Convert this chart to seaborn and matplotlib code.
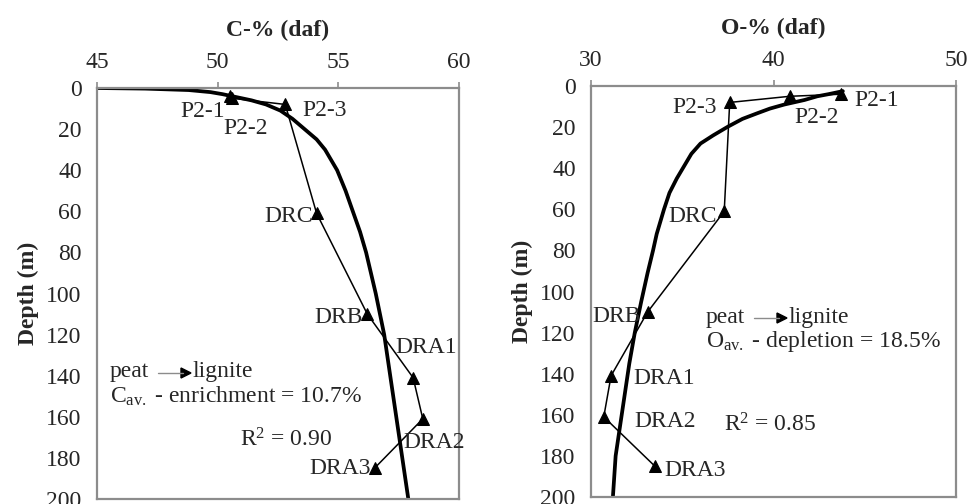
import matplotlib
matplotlib.use("Agg")
import matplotlib.pyplot as plt
import seaborn as sns

# Sample depths (m) and labels, shared by both panels
samples = ['P2-1', 'P2-2', 'P2-3', 'DRC', 'DRB', 'DRA1', 'DRA2', 'DRA3']
depth = [4, 5, 8, 61, 110, 141, 161, 185]

# Carbon and oxygen content (% daf) of the samples
carbon = [50.5, 50.6, 52.8, 54.1, 56.2, 58.1, 58.5, 56.5]
oxygen = [43.7, 40.9, 37.6, 37.3, 33.1, 31.1, 30.7, 33.5]

# Fitted trend curves
c_fit_x = [45, 47, 48.8, 49.7, 50.2, 50.6, 51.4, 52.0, 52.6, 53.1, 53.6,
           54.1, 54.45, 54.95, 55.3, 55.6, 55.9, 56.15, 56.35, 56.55,
           56.9, 57.15, 57.4, 57.65, 57.9]
c_fit_d = [0, 0.3, 1, 2, 3, 4, 6, 8, 11, 15, 20,
           25, 30, 40, 50, 60, 70, 80, 90, 100,
           120, 140, 160, 180, 200]
o_fit_x = [43.8, 43.0, 42.4, 41.7, 40.6, 39.8, 39.1, 38.3, 37.5, 36.7,
           36.0, 35.5, 35.1, 34.7, 34.3, 34.0, 33.6, 33.4, 33.1, 32.75,
           32.4, 32.1, 31.8, 31.6, 31.35, 31.2]
o_fit_d = [2.5, 4, 5, 6.8, 9, 11, 13.3, 16, 19.8, 24,
           28, 33, 39, 45, 52, 60, 72, 80, 91, 105,
           120, 135, 153, 165, 180, 200]

# Label offsets (pixels) and alignment for each sample label
c_offsets = [(-5, -15, 'right'), (-9, -30, 'left'), (17, -6, 'left'),
             (-4, -3, 'right'), (-5, -3, 'right'), (44, 30, 'right'),
             (-19, -24, 'left'), (-4, 0, 'right')]
o_offsets = [(13, -6, 'left'), (4, -21, 'left'), (-13, -5, 'right'),
             (-7, -5, 'right'), (-7, -4, 'right'), (22, -3, 'left'),
             (31, -5, 'left'), (9, -4, 'left')]

sns.set_style("white")
plt.rcParams['font.family'] = ['Liberation Serif', 'DejaVu Serif']
plt.rcParams['mathtext.fontset'] = 'custom'
plt.rcParams['mathtext.rm'] = 'Liberation Serif'
plt.rcParams['mathtext.it'] = 'Liberation Serif:italic'

fig = plt.figure(figsize=(9.68, 5.04), dpi=100)
ax1 = fig.add_axes([97 / 968, 5 / 504, 362 / 968, 411 / 504])
ax2 = fig.add_axes([591 / 968, 7 / 504, 365 / 968, 411 / 504])

gray = '#8c8c8c'
fs = 17


def draw_panel(ax, values, fit_x, fit_d, offsets, xlim, xticks, title):
    sns.lineplot(x=fit_x, y=fit_d, sort=False, estimator=None, ax=ax,
                 color='black', lw=2.7)
    sns.lineplot(x=values, y=depth, sort=False, estimator=None, ax=ax,
                 color='black', lw=1.1, marker='^', markersize=8.5,
                 markeredgecolor='black')
    for name, x, d, (dx, dy, ha) in zip(samples, values, depth, offsets):
        ax.annotate(name, (x, d), xytext=(dx, dy), textcoords='offset pixels',
                    ha=ha, va='center', fontsize=fs)
    ax.set_xlim(*xlim)
    ax.set_ylim(200, 0)
    ax.set_xticks(xticks)
    ax.set_yticks(range(0, 201, 20))
    ax.xaxis.tick_top()
    ax.xaxis.set_label_position('top')
    ax.set_xlabel(title, fontsize=fs, fontweight='bold', labelpad=11)
    ax.set_ylabel('Depth (m)', fontsize=fs, fontweight='bold', labelpad=5)
    ax.tick_params(axis='both', labelsize=fs, length=4, width=1.2,
                   color=gray, pad=7, direction='out')
    for s in ax.spines.values():
        s.set_visible(True)
        s.set_color(gray)
        s.set_linewidth(1.6)


draw_panel(ax1, carbon, c_fit_x, c_fit_d, c_offsets, (45, 60),
           [45, 50, 55, 60], 'C-% (daf)')
draw_panel(ax2, oxygen, o_fit_x, o_fit_d, o_offsets, (30, 50),
           [30, 40, 50], 'O-% (daf)')


def peat_note(x, y, line2, r2, rx, ry):
    # x, y in figure pixels (top-left origin)
    fx = lambda px: px / 968
    fy = lambda py: 1 - py / 504
    fig.text(fx(x), fy(y), 'peat', fontsize=fs, va='center', ha='left')
    fig.text(fx(x + 82), fy(y), 'lignite', fontsize=fs, va='center', ha='left')
    fig.add_artist(plt.Line2D([fx(x + 48), fx(x + 73)], [fy(y + 1)] * 2,
                              color=gray, lw=1))
    fig.add_artist(plt.Polygon([[fx(x + 71), fy(y - 4)], [fx(x + 71), fy(y + 6)],
                                [fx(x + 81), fy(y + 1)]], closed=True,
                               color='black'))
    fig.text(fx(x), fy(y + 24), line2, fontsize=fs, va='center', ha='left')
    fig.text(fx(rx), fy(ry), r2, fontsize=fs, va='center', ha='left')


peat_note(110, 372, r'C$_{\mathregular{av.}}$ - enrichment = 10.7%',
          r'R$^{\mathregular{2}}$ = 0.90', 240, 440)
peat_note(706, 317, r'O$_{\mathregular{av.}}$ - depletion = 18.5%',
          r'R$^{\mathregular{2}}$ = 0.85', 724, 425)

fig.savefig('out.png', dpi=100)
